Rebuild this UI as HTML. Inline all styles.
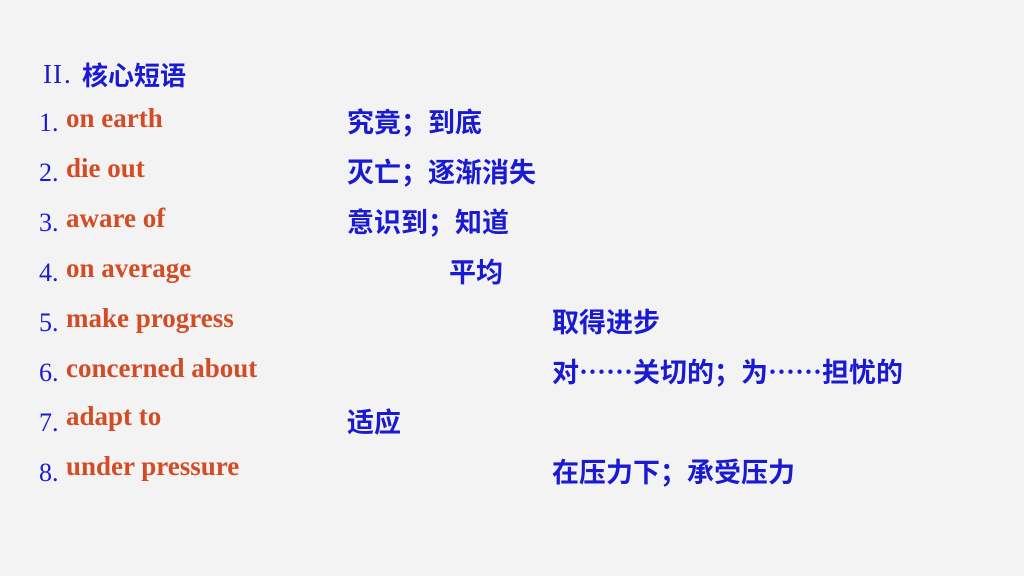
<!DOCTYPE html>
<html><head><meta charset="utf-8"><style>
body{margin:0;width:1024px;height:576px;background:#f3f3f3;position:relative;overflow:hidden}
div{position:absolute;white-space:nowrap;line-height:26px}
.n{font:26px "Liberation Serif",serif;color:#1a1ad2;left:39px}
.e{font:bold 27px "Liberation Serif",serif;color:#d24c26;left:66px}
.c{font:bold 27px "Noto Sans CJK SC",sans-serif;color:#1a1ad2}
</style></head><body>
<div style="left:43px;top:59px;font:27px 'Liberation Serif',serif;color:#1a1ad2;letter-spacing:0px">I<span style="margin-left:1px">I</span><span style="margin-left:2px">.</span></div>
<div class="c" style="left:82px;top:56px;font-size:26px">核心短语</div>

<div class="n" style="top:108px">1.</div><div class="e" style="top:103px">on earth</div><div class="c" style="left:347px;top:101px">究竟；到底</div>
<div class="n" style="top:158px">2.</div><div class="e" style="top:153px">die out</div><div class="c" style="left:347px;top:151px">灭亡；逐渐消失</div>
<div class="n" style="top:208px">3.</div><div class="e" style="top:203px">aware of</div><div class="c" style="left:347px;top:201px">意识到；知道</div>
<div class="n" style="top:258px">4.</div><div class="e" style="top:253px">on average</div><div class="c" style="left:449px;top:251px">平均</div>
<div class="n" style="top:308px">5.</div><div class="e" style="top:303px">make progress</div><div class="c" style="left:552px;top:301px">取得进步</div>
<div class="n" style="top:358px">6.</div><div class="e" style="top:353px">concerned about</div><div class="c" style="left:552px;top:351px">对……关切的；为……担忧的</div>
<div class="n" style="top:408px">7.</div><div class="e" style="top:401px">adapt to</div><div class="c" style="left:347px;top:401px">适应</div>
<div class="n" style="top:458px">8.</div><div class="e" style="top:451px">under pressure</div><div class="c" style="left:552px;top:451px">在压力下；承受压力</div>
</body></html>
